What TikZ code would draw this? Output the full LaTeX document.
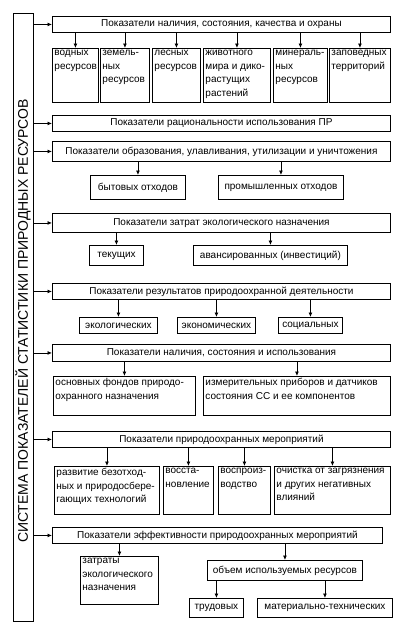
\documentclass[tikz,border=0pt]{standalone}
\usepackage{fontspec}
\setmainfont{Liberation Sans}
\usetikzlibrary{arrows.meta}
\newcommand\cell[6]{%
  \pgfmathsetmacro\cw{#4-#2-4}\pgfmathsetmacro\ch{#5-#3-3}%
  \node[cellst] (#1) at (#2,#3) {\parbox[c][\ch pt][t]{\cw pt}{\raggedright #6}};}
\newcommand\flatcell[6]{%
  \pgfmathsetmacro\cw{#4-#2}\pgfmathsetmacro\ch{#5-#3}%
  \node[flatst, minimum width=\cw pt, minimum height=\ch pt] (#1) at (#2,#3) {#6};}
\tikzset{
  cellst/.style={draw, line width=0.9pt, anchor=north west, inner xsep=2pt, inner ysep=2pt,
    font=\fontsize{10}{13.5}\selectfont},
  flatst/.style={draw, line width=0.9pt, anchor=north west, inner sep=0pt,
    font=\fontsize{10}{13.5}\selectfont, align=center},
  arr/.style={line width=0.8pt, -{Latex[length=4.5pt,width=4pt]}}
}
\begin{document}
\begin{tikzpicture}[x=1pt,y=-1pt]
\useasboundingbox (0,0) rectangle (408,630);
% left box
\node[draw, line width=1.4pt, anchor=north west, inner sep=0pt, minimum width=20pt, minimum height=608pt] (L) at (13,13) {};
\node[rotate=90, font=\fontsize{14}{16}\selectfont] (Ltext) at (23,321) {СИСТЕМА ПОКАЗАТЕЛЕЙ СТАТИСТИКИ ПРИРОДНЫХ РЕСУРСОВ};
% headers
\flatcell{h1}{52}{16}{390}{32}{Показатели наличия, состояния, качества и охраны}
\flatcell{h2}{52}{115}{390}{131}{Показатели рациональности использования ПР}
\flatcell{h3}{52}{141}{390}{161}{Показатели образования, улавливания, утилизации и уничтожения}
\flatcell{h4}{52}{213}{390}{232}{Показатели затрат экологического назначения}
\flatcell{h5}{52}{283}{390}{299}{Показатели результатов природоохранной деятельности}
\flatcell{h6}{52}{344}{390}{361}{Показатели наличия, состояния и использования}
\flatcell{h7}{52}{431}{390}{447}{Показатели природоохранных мероприятий}
\flatcell{h8}{52}{527}{382}{543}{Показатели эффективности природоохранных мероприятий}
% row 1
\cell{b1}{52}{48}{98}{101}{водных\\ресурсов}
\cell{b2}{100}{48}{149}{101}{земель-\\ных\\ресурсов}
\cell{b3}{152}{48}{200}{101}{лесных\\ресурсов}
\cell{b4}{203}{48}{270}{101}{животного\\мира и дико-\\растущих\\растений}
\cell{b5}{273}{48}{327}{101}{минераль-\\ных\\ресурсов}
\cell{b6}{329}{48}{390}{101}{заповедных\\территорий}
% row 3
\flatcell{c1}{90}{175}{185}{199}{бытовых отходов}
\flatcell{c2}{218}{175}{343}{199}{промышленных отходов}
% row 4
\flatcell{d1}{89}{245}{143}{265}{текущих}
\flatcell{d2}{193}{245}{347}{265}{авансированных (инвестиций)}
% row 5
\flatcell{e1}{79}{317}{157}{333}{экологических}
\flatcell{e2}{177}{317}{255}{333}{экономических}
\flatcell{e3}{278}{317}{342}{333}{социальных}
% row 6
\cell{f1}{53}{376}{195}{414}{основных фондов природо-\\охранного назначения}
\cell{f2}{203}{376}{390}{414}{измерительных приборов и датчиков\\состояния СС и ее компонентов}
% row 7
\cell{g1}{54}{466}{159}{513}{развитие безотход-\\ных и природосбере-\\гающих технологий}
\cell{g2}{163}{466}{213}{513}{восста-\\новление}
\cell{g3}{218}{466}{270}{513}{воспроиз-\\водство}
\cell{g4}{274}{466}{390}{513}{очистка от загрязнения\\и других негативных\\влияний}
% row 8
\cell{k1}{80}{556}{158}{603}{затраты\\экологического\\назначения}
\flatcell{k2}{207}{560}{362}{580}{объем используемых ресурсов}
\flatcell{k3}{189}{598}{243}{617}{трудовых}
\flatcell{k4}{257}{598}{392}{617}{материально-технических}
% left connectors
\foreach \h in {h1,h2,h3,h4,h5,h6,h7,h8}
  \draw[arr] (L.east |- \h.west) -- (\h.west);
% down connectors
\foreach \b in {b1,b2,b3,b4,b5,b6}
  \draw[arr] (h1.south -| \b.north) -- (\b.north);
\foreach \b in {c1,c2}
  \draw[arr] (h3.south -| \b.north) -- (\b.north);
\foreach \b in {d1,d2}
  \draw[arr] (h4.south -| \b.north) -- (\b.north);
\foreach \b in {e1,e2,e3}
  \draw[arr] (h5.south -| \b.north) -- (\b.north);
\foreach \b in {f1,f2}
  \draw[arr] (h6.south -| \b.north) -- (\b.north);
\foreach \b in {g1,g2,g3,g4}
  \draw[arr] (h7.south -| \b.north) -- (\b.north);
\foreach \b in {k1,k2}
  \draw[arr] (h8.south -| \b.north) -- (\b.north);
\foreach \b in {k3,k4}
  \draw[arr] (k2.south -| \b.north) -- (\b.north);
\end{tikzpicture}
\end{document}
